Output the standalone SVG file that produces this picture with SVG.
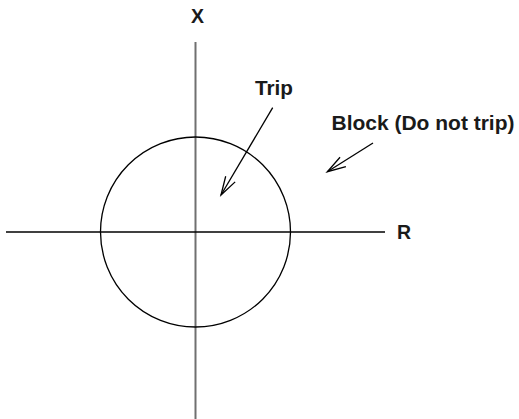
<svg xmlns="http://www.w3.org/2000/svg" width="519" height="419" viewBox="0 0 519 419">
<style>
.lbl{font-family:"Liberation Sans",Arial,Helvetica,sans-serif;font-weight:bold;font-size:19.5px;fill:#1a1a1a}
.ln{fill:none;stroke:#000;stroke-width:1.3}
</style>
<defs>
<marker id="open" markerUnits="userSpaceOnUse" markerWidth="24" markerHeight="14" viewBox="-20 -7 22 14" refX="0" refY="0" orient="auto">
<path d="M-18.5,-5.5 L0,0 L-18.5,5.5" fill="none" stroke="#000" stroke-width="1.3"/>
</marker>
</defs>
<rect width="519" height="419" fill="#fff"/>
<g id="axes">
<line x1="195.5" y1="42" x2="195.5" y2="419" stroke="#707070" stroke-width="2"/>
<line x1="6" y1="232" x2="385" y2="232" stroke="#000" stroke-width="1.5"/>
</g>
<g id="circle">
<circle cx="195.5" cy="232" r="95" class="ln"/>
</g>
<g id="label-x"><text class="lbl" x="197.5" y="22.5" text-anchor="middle">X</text></g>
<g id="label-r"><text class="lbl" x="397" y="239">R</text></g>
<g id="label-trip"><text class="lbl" x="255" y="95" textLength="38" lengthAdjust="spacingAndGlyphs">Trip</text></g>
<g id="label-block"><text class="lbl" x="331.5" y="130" textLength="183" lengthAdjust="spacingAndGlyphs">Block (Do not trip)</text></g>
<g id="connectors">
<line x1="272.7" y1="107.7" x2="221" y2="195" class="ln" marker-end="url(#open)"/>
<line x1="373" y1="143" x2="327.3" y2="171.7" class="ln" marker-end="url(#open)"/>
</g>
</svg>
